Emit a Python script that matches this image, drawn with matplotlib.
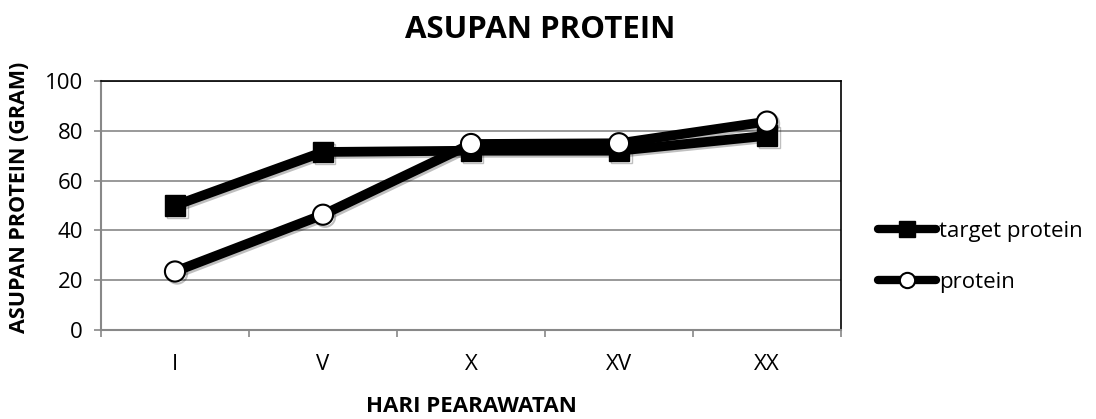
import numpy as np
import matplotlib.pyplot as plt
import matplotlib.patheffects as pe
from matplotlib.lines import Line2D

plt.rcParams['font.family'] = ['Open Sans', 'DejaVu Sans']

days = ['I', 'V', 'X', 'XV', 'XX']
target_protein = [50, 71.5, 72, 72, 78]
protein = [23.5, 46.3, 74.7, 75, 83.7]

W, H = 1096, 419
fig = plt.figure(figsize=(W / 100, H / 100), dpi=100)
ax = fig.add_axes([101 / W, 1 - 330 / H, 740 / W, 249 / H])

x = np.arange(len(days))
shadow = [pe.SimpleLineShadow(offset=(1.5, -1.5), alpha=0.25), pe.Normal()]
ax.plot(x, target_protein, color='black', lw=7, marker='s', ms=15,
        mfc='black', mec='black', path_effects=shadow, zorder=3)
ax.plot(x, protein, color='black', lw=7, marker='o', ms=14.5,
        mfc='white', mec='black', mew=1.5, path_effects=shadow, zorder=4)

ax.set_xlim(-0.5, len(days) - 0.5)
ax.set_ylim(0, 100)
ax.set_yticks(np.arange(0, 101, 20))
ax.set_xticks(x)
ax.set_xticklabels(days)
ax.set_xticks(np.arange(-0.5, len(days), 1), minor=True)
ax.tick_params(axis='x', which='major', length=0, pad=17, labelsize=16)
ax.tick_params(axis='x', which='minor', length=5, color='#888888', width=1.2)
ax.tick_params(axis='y', length=5, color='#888888', width=1.2, labelsize=16, pad=8)
ax.grid(axis='y', color='#888888', lw=1.2)
ax.set_axisbelow(True)
for side in ['left', 'bottom']:
    ax.spines[side].set_color('#888888')
    ax.spines[side].set_linewidth(1.5)
for side in ['top', 'right']:
    ax.spines[side].set_color('black')
    ax.spines[side].set_linewidth(1.2)

fig.text(540 / W, 1 - 30 / H, 'ASUPAN PROTEIN', fontsize=22.5, fontweight='bold',
         ha='center', va='center')
ax.set_ylabel('ASUPAN PROTEIN (GRAM)', fontsize=15.5, fontweight='bold')
ax.yaxis.set_label_coords((20 - 101) / 740, (330 - 197) / 249)
ax.yaxis.label.set_va('center')
ax.set_xlabel('HARI PEARAWATAN', fontsize=16, fontweight='bold')
ax.xaxis.set_label_coords((471 - 101) / 740, (330 - 406) / 249)
ax.xaxis.label.set_va('center')

handles = [
    Line2D([], [], color='black', lw=6, solid_capstyle='round', marker='s', ms=11,
           mfc='black', mec='black'),
    Line2D([], [], color='black', lw=6, solid_capstyle='round', marker='o', ms=11,
           mfc='white', mec='black', mew=1.5),
]
fig.legend(handles, ['target protein', 'protein'], loc='center left',
           bbox_to_anchor=(878 / W, 1 - 257 / H), frameon=False, fontsize=16,
           handlelength=2.6, handletextpad=0.15, labelspacing=1.35,
           borderpad=0, borderaxespad=0)

fig.savefig('out.png', dpi=100)
